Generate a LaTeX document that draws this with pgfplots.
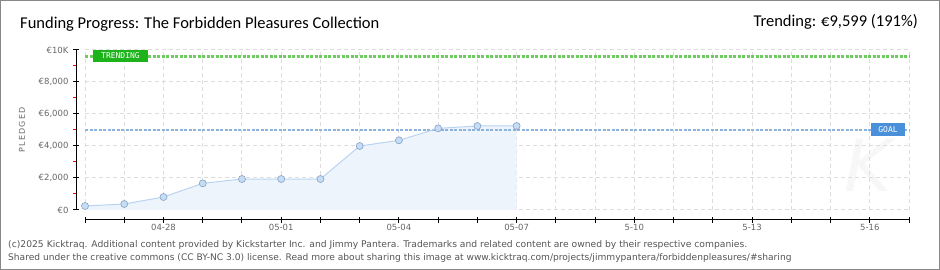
\documentclass[border=0pt]{standalone}
\usepackage{pgfplots}
\pgfplotsset{compat=1.18}
\usepackage{fontspec}
\setmainfont{Carlito}
\newfontfamily\foot{DejaVu Sans}
\newfontfamily\pix{DejaVu Sans Mono}
\definecolor{fillblue}{HTML}{EDF4FC}
\definecolor{lineblue}{HTML}{B8D4F2}
\definecolor{markfill}{HTML}{C6DDF6}
\definecolor{markedge}{HTML}{8EA8C8}
\definecolor{goalblue}{HTML}{8CB2DF}
\definecolor{goalbox}{HTML}{4A8FDA}
\definecolor{trendgreen}{HTML}{6DCB60}
\definecolor{trendbox}{HTML}{1DB31B}
\definecolor{gridgray}{HTML}{DDDDDD}
\definecolor{tickgray}{HTML}{666666}
\definecolor{footgray}{HTML}{555555}
\definecolor{framegray}{HTML}{888888}
\begin{document}
\begin{tikzpicture}
\path[use as bounding box] (0pt,0pt) rectangle (940pt,270pt);
\node[anchor=center, text=gray!6, font=\foot\itshape\fontsize{72}{72}\selectfont] at (868pt,105pt) {K};
\begin{axis}[
  at={(76pt,50pt)}, anchor=south west,
  width=833pt, height=170pt, scale only axis,
  xmin=-0.23, xmax=21, ymin=-625, ymax=10000,
  axis x line*=bottom, axis y line*=left,
  x axis line style={shorten <=9pt, line width=1pt},
  y axis line style={shorten <=10pt, line width=1pt},
  xtick={0,...,21},
  xticklabels={,,04-28,,,05-01,,,05-04,,,05-07,,,5-10,,,5-13,,,5-16,},
  ytick={0,2000,4000,6000,8000,10000},
  yticklabels={€0,{€2,000},{€4,000},{€6,000},{€8,000},€10K},
  scaled y ticks=false,
  tick align=center,
  major tick length=6pt,
  every major tick/.style={black, line width=1pt},
  x tick label style={font=\foot\fontsize{8.5}{9}\selectfont, text=tickgray, yshift=2pt},
  y tick label style={font=\foot\fontsize{8.5}{9}\selectfont, text=tickgray, xshift=-1pt},
  clip=false,
]
\pgfplotsinvokeforeach{0,...,21}{\draw[gridgray, line width=1pt, dash pattern=on 4pt off 3pt] (axis cs:#1,0) -- (axis cs:#1,10000);}
\pgfplotsinvokeforeach{0,2000,4000,6000,8000,10000}{\draw[gridgray, line width=1pt, dash pattern=on 4pt off 3pt] (axis cs:0,#1) -- (axis cs:21,#1);}
\pgfplotsinvokeforeach{1000,3000,5000,7000,9000}{\draw[red, line width=1pt] (axis cs:-0.23,#1) -- ++(-3.5pt,0pt);}
\addplot[draw=none, fill=fillblue] coordinates {(0,0)(0,250)(1,375)(2,812)(3,1667)(4,1937)(5,1937)(6,1937)(7,4000)(8,4354)(9,5104)(10,5250)(11,5250)(11,0)} -- cycle;
\addplot[goalblue, line width=2.5pt, dash pattern=on 3pt off 1.5pt] coordinates {(0,5000)(21,5000)};
\addplot[trendgreen, line width=2.5pt, dash pattern=on 3pt off 1.5pt] coordinates {(0,9599)(21,9599)};
\addplot[lineblue, line width=1pt, mark=*, mark size=3.5pt, mark options={fill=markfill, draw=markedge, line width=0.7pt}] coordinates {(0,250)(1,375)(2,812)(3,1667)(4,1937)(5,1937)(6,1937)(7,4000)(8,4354)(9,5104)(10,5250)(11,5250)};
\end{axis}
\node[fill=trendbox, text=white, font=\pix\fontsize{8}{8}\selectfont, minimum width=55pt, minimum height=12pt, inner sep=0pt] at (120.5pt,214pt) {TRENDING};
\node[fill=goalbox, text=white, font=\pix\fontsize{8}{8}\selectfont, minimum width=34pt, minimum height=13pt, inner sep=0pt] at (888pt,140pt) {GOAL};
\node[rotate=90, text=tickgray, font=\foot\fontsize{8}{8}\selectfont\addfontfeature{LetterSpace=15}] at (22pt,140pt) {PLEDGED};
\node[anchor=base west, inner sep=0pt, font=\fontsize{16.5}{17}\selectfont] at (20pt,241pt) {Funding Progress: The Forbidden Pleasures Collection};
\node[anchor=base east, inner sep=0pt, font=\fontsize{16.5}{17}\selectfont] at (918pt,243pt) {Trending: €9,599 (191\%)};
\node[anchor=base west, inner sep=0pt, text=footgray, font=\foot\fontsize{9.2}{9}\selectfont] at (8pt,22pt) {(c)2025 Kicktraq. Additional content provided by Kickstarter Inc. and Jimmy Pantera. Trademarks and related content are owned by their respective companies.};
\node[anchor=base west, inner sep=0pt, text=footgray, font=\foot\fontsize{9.1}{9}\selectfont] at (8pt,9pt) {Shared under the creative commons (CC BY-NC 3.0) license. Read more about sharing this image at www.kicktraq.com/projects/jimmypantera/forbiddenpleasures/\#sharing};
\draw[framegray, line width=2.5pt] (0pt,0pt) rectangle (940pt,270pt);
\end{tikzpicture}
\end{document}
